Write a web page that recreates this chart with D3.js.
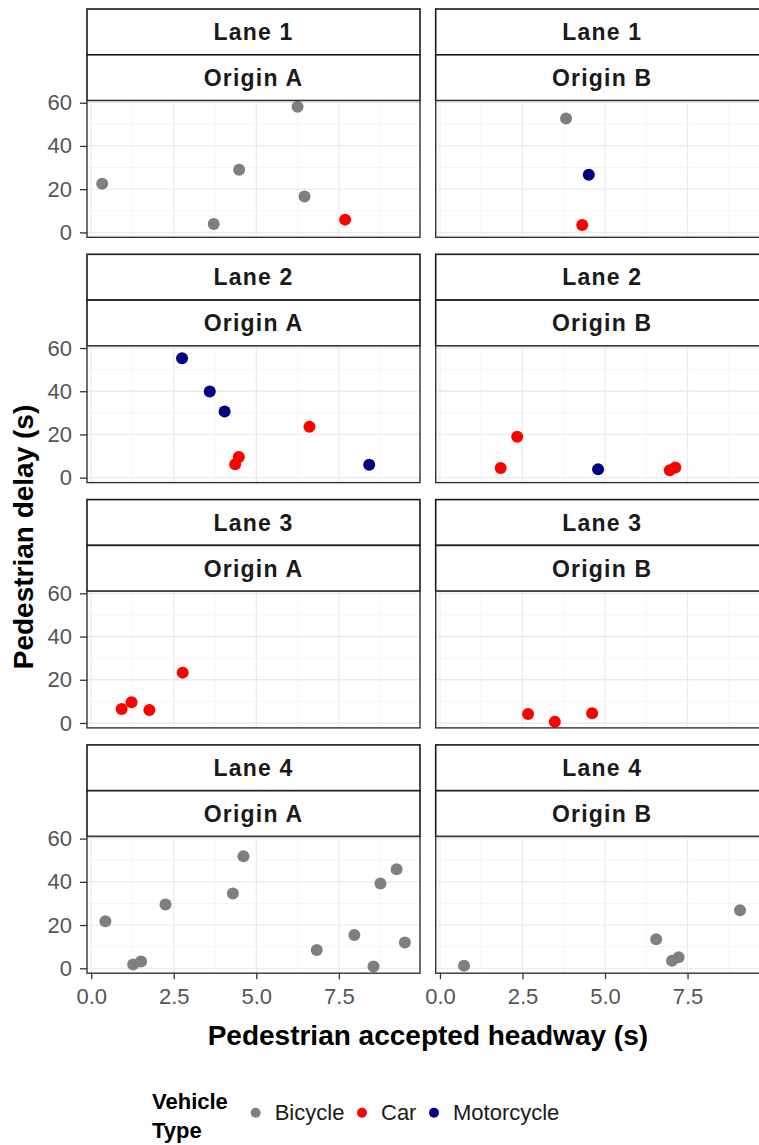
<!DOCTYPE html>
<html>
<head>
<meta charset="utf-8">
<script src="https://cdn.jsdelivr.net/npm/d3@7"></script>
<style>
  body { margin: 0; background: #fff; }
  svg { font-family: "Liberation Sans", Arial, sans-serif; }
</style>
</head>
<body>
<div id="chart"></div>
<script>
// facets
var lanes   = ["Lane 1", "Lane 2", "Lane 3", "Lane 4"];
var origins = ["Origin A", "Origin B"];
var vehicleTypes  = ["Bicycle", "Car", "Motorcycle"];
var vehicleColors = ["#7f7f7f", "#ff0000", "#000080"];

// [headway (s), delay (s), vehicle]
var lane1A = [[0.33, 22.5, "Bicycle"], [3.71, 3.9, "Bicycle"], [4.48, 29.0, "Bicycle"],
              [6.25, 58.1, "Bicycle"], [6.46, 16.6, "Bicycle"], [7.69, 5.9, "Car"]];
var lane1B = [[3.82, 52.7, "Bicycle"], [4.51, 26.7, "Motorcycle"], [4.31, 3.4, "Car"]];
var lane2A = [[2.75, 55.3, "Motorcycle"], [3.59, 39.9, "Motorcycle"], [4.04, 30.6, "Motorcycle"],
              [6.61, 23.6, "Car"], [4.47, 9.6, "Car"], [4.36, 6.2, "Car"], [8.42, 6.0, "Motorcycle"]];
var lane2B = [[2.34, 18.9, "Car"], [1.84, 4.5, "Car"], [4.79, 3.9, "Motorcycle"],
              [6.96, 3.4, "Car"], [7.13, 4.7, "Car"]];
var lane3A = [[0.92, 6.5, "Car"], [1.22, 9.6, "Car"], [1.76, 6.0, "Car"], [2.77, 23.3, "Car"]];
var lane3B = [[2.67, 4.2, "Car"], [3.48, 0.6, "Car"], [4.61, 4.5, "Car"]];
var lane4A = [[0.43, 21.8, "Bicycle"], [1.27, 1.8, "Bicycle"], [1.51, 3.1, "Bicycle"],
              [2.25, 29.5, "Bicycle"], [4.29, 34.6, "Bicycle"], [4.61, 51.8, "Bicycle"],
              [6.83, 8.5, "Bicycle"], [7.97, 15.4, "Bicycle"], [8.55, 0.8, "Bicycle"],
              [8.76, 39.2, "Bicycle"], [9.25, 45.8, "Bicycle"], [9.50, 11.9, "Bicycle"]];
var lane4B = [[0.73, 1.2, "Bicycle"], [6.55, 13.4, "Bicycle"], [7.03, 3.5, "Bicycle"],
              [7.23, 5.1, "Bicycle"], [9.09, 26.9, "Bicycle"]];

var panels = [[lane1A, lane1B], [lane2A, lane2B], [lane3A, lane3B], [lane4A, lane4B]];

var xTicks = [0, 2.5, 5, 7.5];
var xMinor = [1.25, 3.75, 6.25, 8.75];
var yTicks = [0, 20, 40, 60];
var yMinor = [10, 30, 50];

// layout
var w = 759, h = 1145;
var panelW = 333, panelH = 136.7, stripH = 45.8;
var colX = [87, 435.7];
var rowY = [9, 254.3, 499.6, 744.9];

var color = d3.scaleOrdinal().domain(vehicleTypes).range(vehicleColors);

// shared scales, ggplot style 5% expansion
var all = d3.merge(d3.merge(panels));
function expand(ext) {
  var pad = (ext[1] - ext[0]) * 0.05;
  return [ext[0] - pad, ext[1] + pad];
}
var x = d3.scaleLinear().domain(expand(d3.extent(all, function(d) { return d[0]; }))).range([0, panelW]);
var y = d3.scaleLinear().domain(expand(d3.extent(all, function(d) { return d[1]; }))).range([panelH, 0]);

var svg = d3.select("#chart").append("svg")
    .attr("width", w)
    .attr("height", h);

lanes.forEach(function(lane, r) {
  origins.forEach(function(origin, c) {
    var g = svg.append("g")
        .attr("transform", "translate(" + colX[c] + "," + rowY[r] + ")");

    // two strips
    [lane, origin].forEach(function(label, i) {
      g.append("rect")
       .attr("x", 0).attr("y", i * stripH)
       .attr("width", panelW).attr("height", stripH)
       .attr("fill", "#fff").attr("stroke", "#1a1a1a").attr("stroke-width", 1.6);
      g.append("text")
       .attr("x", panelW / 2).attr("y", i * stripH + stripH / 2)
       .attr("dy", "0.36em")
       .attr("text-anchor", "middle")
       .attr("font-size", 23).attr("font-weight", "bold")
       .attr("letter-spacing", 1.2)
       .attr("fill", "#1a1a1a")
       .text(label);
    });

    var p = g.append("g").attr("transform", "translate(0," + (2 * stripH) + ")");
    p.append("rect").attr("width", panelW).attr("height", panelH).attr("fill", "#fff");

    // grid
    p.selectAll(".vminor").data(xMinor).enter().append("line")
     .attr("x1", x).attr("x2", x).attr("y1", 0).attr("y2", panelH)
     .attr("stroke", "#f3f3f3").attr("stroke-width", 0.8);
    p.selectAll(".hminor").data(yMinor).enter().append("line")
     .attr("y1", y).attr("y2", y).attr("x1", 0).attr("x2", panelW)
     .attr("stroke", "#f3f3f3").attr("stroke-width", 0.8);
    p.selectAll(".vmajor").data(xTicks).enter().append("line")
     .attr("x1", x).attr("x2", x).attr("y1", 0).attr("y2", panelH)
     .attr("stroke", "#ebebeb").attr("stroke-width", 1.3);
    p.selectAll(".hmajor").data(yTicks).enter().append("line")
     .attr("y1", y).attr("y2", y).attr("x1", 0).attr("x2", panelW)
     .attr("stroke", "#ebebeb").attr("stroke-width", 1.3);

    // points
    p.selectAll("circle").data(panels[r][c]).enter().append("circle")
     .attr("cx", function(d) { return x(d[0]); })
     .attr("cy", function(d) { return y(d[1]); })
     .attr("r", 6)
     .attr("fill", function(d) { return color(d[2]); });

    p.append("rect").attr("width", panelW).attr("height", panelH)
     .attr("fill", "none").attr("stroke", "#333").attr("stroke-width", 1.4);

    // axes on the outer panels only
    if (c === 0) {
      var ya = p.append("g")
          .call(d3.axisLeft(y).tickValues(yTicks).tickSize(7).tickPadding(8));
      ya.select(".domain").remove();
      ya.selectAll("line").attr("stroke", "#333").attr("stroke-width", 1.3);
      ya.selectAll("text").attr("font-size", 22).attr("fill", "#555")
        .attr("font-family", "Liberation Sans, Arial, sans-serif");
    }
    if (r === lanes.length - 1) {
      var xa = p.append("g")
          .attr("transform", "translate(0," + panelH + ")")
          .call(d3.axisBottom(x).tickValues(xTicks).tickFormat(d3.format(".1f"))
                .tickSize(6).tickPadding(9));
      xa.select(".domain").remove();
      xa.selectAll("line").attr("stroke", "#333").attr("stroke-width", 1.3);
      xa.selectAll("text").attr("font-size", 22).attr("fill", "#555")
        .attr("font-family", "Liberation Sans, Arial, sans-serif");
    }
  });
});

// axis titles
svg.append("text")
   .attr("x", (colX[0] + colX[1] + panelW) / 2).attr("y", 1045)
   .attr("text-anchor", "middle")
   .attr("font-size", 28).attr("font-weight", "bold")
   .text("Pedestrian accepted headway (s)");

svg.append("text")
   .attr("transform", "translate(33,537) rotate(-90)")
   .attr("text-anchor", "middle")
   .attr("font-size", 28).attr("font-weight", "bold")
   .text("Pedestrian delay (s)");

// legend
var legend = svg.append("g");
legend.append("text").attr("x", 152).attr("y", 1109)
      .attr("font-size", 22).attr("font-weight", "bold").text("Vehicle");
legend.append("text").attr("x", 152).attr("y", 1138)
      .attr("font-size", 22).attr("font-weight", "bold").text("Type");

var legendX = [255.7, 362, 434];
vehicleTypes.forEach(function(v, i) {
  legend.append("circle")
        .attr("cx", legendX[i]).attr("cy", 1112.7).attr("r", 5)
        .attr("fill", color(v));
  legend.append("text")
        .attr("x", legendX[i] + 19).attr("y", 1120)
        .attr("font-size", 22).attr("fill", "#1a1a1a")
        .text(v);
});
</script>
</body>
</html>
